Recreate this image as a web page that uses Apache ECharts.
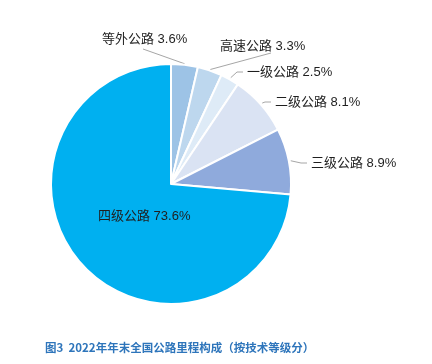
<!DOCTYPE html>
<html><head><meta charset="utf-8">
<script src="https://cdn.jsdelivr.net/npm/echarts@6/dist/echarts.min.js"></script>
<style>html,body{margin:0;padding:0;background:#fff}#c{width:432px;height:364px}</style>
</head><body><div id="c"></div>
<script>
var categories = ['等外公路', '高速公路', '一级公路', '二级公路', '三级公路', '四级公路'];
var shares = [3.6, 3.3, 2.5, 8.1, 8.9, 73.6];
var sliceColors = ['#9DC3E6', '#BDD7EE', '#DEEBF7', '#DAE3F3', '#8FAADC', '#00B0F0'];
var titleText = '图3  2022年年末全国公路里程构成（按技术等级分）';

// layout (pixels)
var CX = 171, CY = 184, R = 120;
var labelPos = [
  {x: 102, y: 39, kind: 'up', ex: 143, ey: 49},
  {x: 220, y: 46, kind: 'up', ex: 271, ey: 53},
  {x: 247, y: 72, kind: 'side'},
  {x: 275, y: 102, kind: 'side'},
  {x: 311, y: 163, kind: 'side'},
  {x: 98, y: 216, kind: 'inside'}
];

var total = shares.reduce(function (a, b) { return a + b; }, 0);
var cum = [], acc = 0;
shares.forEach(function (v) { cum.push(acc + v / 2); acc += v; });
function edgePoint(i, extra) {
  var ang = cum[i] / total * 2 * Math.PI;
  return [CX + (R + extra) * Math.sin(ang), CY - (R + extra) * Math.cos(ang)];
}

var data = categories.map(function (n, i) {
  var d = {name: n, value: shares[i], itemStyle: {color: sliceColors[i]}};
  if (labelPos[i].kind === 'inside') {
    d.label = {position: 'inside'};
    d.labelLine = {show: false};
  }
  return d;
});

var chart = echarts.init(document.getElementById('c'), null, {renderer: 'canvas'});
chart.setOption({
  animation: false,
  backgroundColor: '#fff',
  title: {
    text: titleText, left: 40, top: 337,
    textStyle: {fontSize: 11.5, fontWeight: 'bold', color: '#2E75BB', fontFamily: 'Noto Sans CJK SC'}
  },
  series: [{
    type: 'pie',
    center: [CX, CY],
    radius: R,
    startAngle: 90,
    clockwise: true,
    avoidLabelOverlap: false,
    itemStyle: {borderColor: '#fff', borderWidth: 2},
    label: {
      show: true,
      formatter: function (p) { return p.name + ' ' + p.value.toFixed(1) + '%'; },
      fontSize: 13, color: '#1f1f1f', fontFamily: '"Liberation Sans", "Noto Sans CJK SC", sans-serif'
    },
    labelLine: {show: true, length: 8, length2: 8, lineStyle: {color: '#A6A6A6', width: 1}},
    labelLayout: function (p) {
      var i = p.dataIndex, L = labelPos[i];
      var o = {x: L.x, y: L.y, align: 'left', verticalAlign: 'middle'};
      if (L.kind === 'up') {
        o.labelLinePoints = [edgePoint(i, 1), [L.ex, L.ey], [L.ex, L.ey]];
      } else if (L.kind === 'side') {
        var s = edgePoint(i, 2);
        o.labelLinePoints = [s, [L.x - 10, L.y], [L.x - 4, L.y]];
      }
      return o;
    },
    data: data
  }]
});
</script></body></html>
